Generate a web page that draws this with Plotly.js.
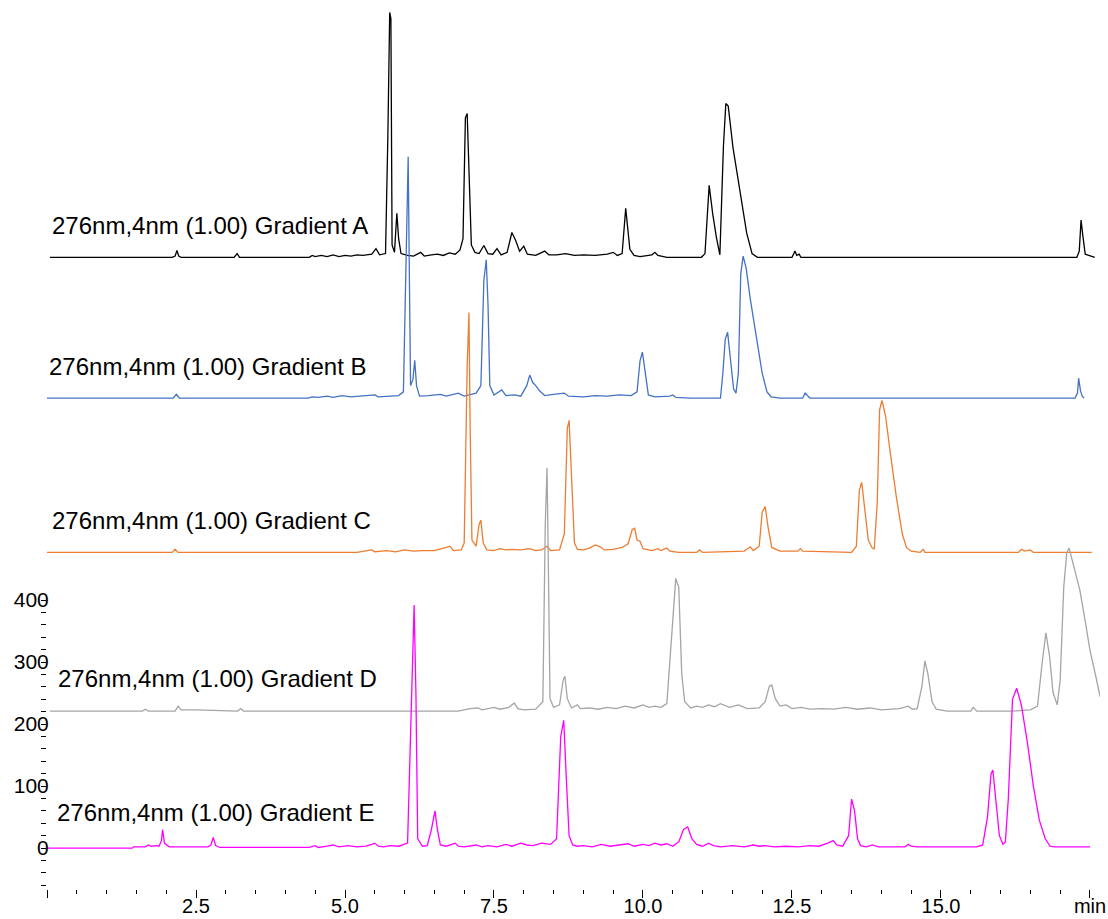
<!DOCTYPE html>
<html>
<head>
<meta charset="utf-8">
<script src="https://cdn.plot.ly/plotly-3.0.1.min.js"></script>
<style>
  html, body { margin: 0; padding: 0; background: #ffffff; }
  #chart { width: 1108px; height: 919px; }
</style>
</head>
<body>
<div id="chart"></div>
<script>
// Retention times (min) and detector response (mAU above each baseline)
const timeA = [0.05,2.10,2.15,2.18,2.21,2.25,3.14,3.19,3.23,4.40,4.45,4.50,4.60,4.70,4.80,4.90,5.00,5.10,5.20,5.30,5.45,5.52,5.58,5.68,5.72,5.75,5.77,5.79,5.83,5.87,5.90,5.94,6.05,6.15,6.27,6.33,6.45,6.55,6.65,6.75,6.85,6.93,6.98,7.02,7.05,7.08,7.12,7.18,7.25,7.33,7.40,7.48,7.55,7.62,7.72,7.80,7.86,7.93,8.00,8.06,8.20,8.35,8.42,8.55,8.70,8.85,9.00,9.20,9.40,9.50,9.57,9.65,9.71,9.78,9.85,9.95,10.15,10.20,10.25,10.40,10.98,11.04,11.11,11.17,11.23,11.29,11.35,11.39,11.43,11.51,11.63,11.74,11.83,11.92,12.50,12.55,12.58,12.62,12.65,17.28,17.32,17.35,17.38,17.42,17.48,17.58];
const sigA  = [0,0,2,11,2,0,0,6,0,0,3,1,3,1,4,1,3,2,4,3,5,14,4,6,200,395,385,20,8,71,30,6,3,2,8,2,4,5,3,7,5,12,30,225,232,150,20,8,6,19,6,5,14,4,8,40,28,10,18,5,3,10,4,4,6,3,4,3,5,8,3,6,79,13,3,1,4,8,3,0,0,6,116,70,33,4,180,248,244,177,108,39,6,0,0,10,3,5,0,0,10,60,35,5,3,0];

const timeB = [0.00,2.12,2.17,2.22,4.38,4.45,4.55,4.70,4.80,4.95,5.10,5.25,5.40,5.50,5.56,5.70,5.90,5.98,6.03,6.06,6.08,6.10,6.14,6.17,6.20,6.25,6.40,6.60,6.70,6.80,6.90,7.00,7.10,7.20,7.28,7.33,7.37,7.40,7.43,7.50,7.63,7.70,7.85,7.95,8.05,8.10,8.15,8.20,8.26,8.35,8.50,8.68,8.75,9.00,9.20,9.40,9.60,9.80,9.90,9.95,9.99,10.04,10.09,10.20,10.45,10.50,10.55,10.80,11.30,11.34,11.38,11.42,11.46,11.52,11.56,11.60,11.64,11.68,11.73,11.80,11.90,12.00,12.08,12.15,12.30,12.68,12.72,12.76,12.80,17.25,17.29,17.31,17.34,17.37,17.40];
const sigB  = [0,0,6,0,0,2,1,3,1,4,2,3,4,5,2,3,4,10,250,389,200,20,30,61,20,3,4,6,3,5,8,3,5,8,20,190,223,150,20,5,13,4,5,3,20,37,25,20,12,4,6,8,3,2,4,3,5,4,10,60,74,40,5,2,3,5,1,0,0,40,95,106,70,15,8,40,200,229,210,160,100,40,10,2,0,0,8,3,0,0,8,32,12,3,0];

const timeC = [0.00,2.10,2.15,2.20,5.20,5.30,5.45,5.50,5.70,5.85,6.00,6.15,6.30,6.50,6.60,6.70,6.76,6.82,6.95,7.00,7.05,7.08,7.10,7.13,7.20,7.25,7.28,7.32,7.38,7.50,7.60,7.70,7.80,7.95,8.10,8.20,8.30,8.39,8.45,8.60,8.68,8.73,8.76,8.80,8.85,8.90,9.00,9.10,9.20,9.28,9.35,9.50,9.65,9.75,9.82,9.86,9.90,9.95,10.00,10.15,10.25,10.30,10.40,10.45,10.60,10.90,10.95,11.00,11.70,11.80,11.85,11.95,12.00,12.05,12.10,12.16,12.30,12.60,12.64,12.68,13.50,13.58,13.63,13.67,13.72,13.78,13.84,13.88,13.93,13.97,14.01,14.07,14.15,14.25,14.35,14.42,14.50,14.65,14.70,14.73,16.30,16.35,16.40,16.50,16.55,17.53];
const sigC  = [0,0,5,0,0,2,4,1,3,1,4,2,3,3,5,8,10,3,4,15,300,387,200,20,10,45,52,15,4,3,6,4,5,4,6,3,4,10,3,4,30,200,213,120,15,5,4,7,12,9,4,5,8,14,37,39,20,18,6,3,6,3,7,2,0,0,4,0,2,9,3,10,65,74,40,8,2,2,6,2,0,10,100,113,70,20,8,5,80,230,245,220,160,90,30,8,2,0,5,0,0,5,2,4,0,0];

const timeD = [0.05,1.60,1.65,1.70,2.15,2.20,2.25,2.50,3.20,3.25,3.30,6.90,7.00,7.10,7.23,7.30,7.50,7.60,7.75,7.84,7.90,8.00,8.20,8.32,8.36,8.39,8.41,8.44,8.50,8.60,8.66,8.69,8.73,8.80,8.90,8.95,9.10,9.25,9.40,9.55,9.70,9.85,10.00,10.10,10.20,10.30,10.40,10.50,10.55,10.60,10.65,10.70,10.80,10.90,11.00,11.10,11.20,11.30,11.45,11.60,11.75,11.95,12.05,12.12,12.16,12.22,12.30,12.40,12.50,12.65,12.80,13.00,13.20,13.40,13.60,13.80,14.00,14.30,14.45,14.52,14.60,14.68,14.73,14.78,14.85,14.92,15.10,15.50,15.54,15.60,16.20,16.50,16.62,16.70,16.76,16.82,16.88,16.95,17.00,17.06,17.11,17.15,17.22,17.33,17.42,17.50,17.60,17.67];
const sigD  = [0,0,3,0,0,8,2,2,0,4,0,0,2,4,5,2,6,3,6,13,4,2,3,15,300,392,250,20,6,10,50,56,20,5,10,4,5,3,6,4,8,5,10,6,8,6,12,150,214,200,60,15,5,8,6,10,7,12,6,10,4,5,15,40,42,20,8,10,4,6,3,4,3,6,3,5,2,4,8,3,4,40,81,60,15,3,0,0,6,0,0,2,8,80,126,90,30,10,50,200,255,263,235,195,145,98,55,23];

const timeE = [0.00,1.43,1.45,1.65,1.70,1.75,1.82,1.88,1.92,1.94,1.97,2.05,2.70,2.75,2.79,2.83,2.90,4.40,4.50,4.55,4.70,4.80,4.90,5.05,5.20,5.35,5.45,5.50,5.56,5.65,5.75,5.90,6.05,6.10,6.16,6.19,6.22,6.30,6.38,6.45,6.51,6.55,6.60,6.70,6.80,6.85,6.90,7.00,7.20,7.30,7.40,7.55,7.70,7.80,7.95,8.05,8.15,8.30,8.45,8.55,8.62,8.67,8.71,8.76,8.82,8.90,9.00,9.15,9.30,9.45,9.60,9.75,9.85,10.00,10.10,10.20,10.30,10.40,10.50,10.60,10.68,10.75,10.82,10.90,11.00,11.10,11.18,11.30,11.50,11.70,11.85,11.95,12.05,12.20,12.40,12.60,12.80,12.95,13.10,13.19,13.25,13.35,13.45,13.50,13.55,13.60,13.65,13.75,13.85,13.95,14.40,14.45,14.50,14.60,15.60,15.70,15.78,15.84,15.87,15.92,15.98,16.04,16.08,16.13,16.20,16.27,16.35,16.45,16.55,16.65,16.75,16.83,16.90,17.50];
const sigE  = [0,0,2,2,5,3,4,3,12,30,8,2,2,5,17,4,1,1,4,1,3,5,2,4,2,3,6,8,3,2,4,3,8,200,392,250,15,3,4,30,60,30,5,3,6,8,3,2,5,2,4,2,6,3,8,5,4,8,6,15,180,206,120,20,5,3,4,2,6,3,5,7,3,6,4,8,5,7,3,10,30,34,15,6,3,8,4,2,4,2,5,3,4,2,3,2,4,3,8,12,5,3,20,79,60,15,4,2,5,2,2,6,3,2,2,5,50,120,126,80,20,6,10,80,240,258,230,170,100,45,15,3,2,2];

// Vertical stacking of the five runs (mAU) and their labels
const runNames = ["Gradient A", "Gradient B", "Gradient C", "Gradient D", "Gradient E"];
const labelPrefix = "276nm,4nm (1.00) ";
const baselines = [953, 726, 477, 221, 0];
const colors = ["#000000", "#4472C4", "#ED7D31", "#A5A5A5", "#FF00FF"];
const labelPos = [[0.05, 1005], [0.0, 777], [0.05, 529], [0.15, 273], [0.134, 58]];

const xTickVals = [0, 2.5, 5, 7.5, 10, 12.5, 15, 17.5];
const xTickText = ["", "2.5", "5.0", "7.5", "10.0", "12.5", "15.0", "min"];
const yTickVals = [0, 100, 200, 300, 400];

const times = [timeA, timeB, timeC, timeD, timeE];
const signals = [sigA, sigB, sigC, sigD, sigE];

const traces = times.map((t, i) => ({
  type: "scatter",
  mode: "lines",
  x: t,
  y: signals[i].map(v => v + baselines[i]),
  line: { color: colors[i], width: 1.3 },
  hoverinfo: "skip",
  showlegend: false
}));

const annotations = runNames.map((name, i) => ({
  x: labelPos[i][0], y: labelPos[i][1], xref: "x", yref: "y",
  text: labelPrefix + name, showarrow: false,
  xanchor: "left", yanchor: "middle",
  font: { family: "Arial, 'Liberation Sans', sans-serif", size: 24, color: "#000000" }
}));

const xMinor = [];
for (let v = 0.5; v < 17.5; v += 0.5) if (Math.abs(v / 2.5 - Math.round(v / 2.5)) > 1e-6) xMinor.push(+v.toFixed(2));
const yMinor = [];
for (let v = -60; v <= 380; v += 20) if (v % 100 !== 0) yMinor.push(v);

const layout = {
  width: 1108, height: 919,
  margin: { l: 47, r: 8, t: 5, b: 30 },
  paper_bgcolor: "#ffffff", plot_bgcolor: "#ffffff",
  font: { family: "Arial, 'Liberation Sans', sans-serif", size: 20, color: "#000000" },
  xaxis: {
    range: [0, 17.668], showgrid: false, zeroline: false, showline: false,
    tickmode: "array", tickvals: xTickVals, ticktext: xTickText,
    ticks: "outside", ticklen: 8, tickwidth: 1, tickcolor: "#000000",
    ticklabelstandoff: -9,
    tickfont: { size: 20 },
    minor: { tickmode: "array", tickvals: xMinor, ticks: "outside", ticklen: 4, tickwidth: 1, tickcolor: "#000000" }
  },
  yaxis: {
    range: [-66, 1360], showgrid: false, zeroline: false, showline: false,
    tickmode: "array", tickvals: yTickVals,
    ticks: "outside", ticklen: 5, tickwidth: 1, tickcolor: "#000000",
    ticklabelstandoff: -12,
    tickfont: { size: 21 },
    minor: { tickmode: "array", tickvals: yMinor, ticks: "outside", ticklen: 5, tickwidth: 1, tickcolor: "#000000" }
  },
  annotations: annotations
};

Plotly.newPlot("chart", traces, layout, { staticPlot: true, displayModeBar: false });
</script>
</body>
</html>
